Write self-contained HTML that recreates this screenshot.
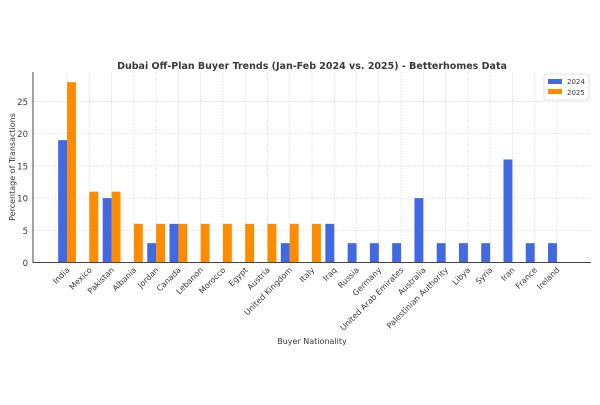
<!DOCTYPE html>
<html><head><meta charset="utf-8"><style>
body{margin:0;background:#fff;}
svg text{font-family:"DejaVu Sans","Liberation Sans",sans-serif;fill:#3a3a3a;}
</style></head><body>
<svg id="chart" width="600" height="400" xmlns="http://www.w3.org/2000/svg"></svg>
<script>
const categories=["India","Mexico","Pakistan","Albania","Jordan","Canada","Lebanon","Morocco","Egypt","Austria","United Kingdom","Italy","Iraq","Russia","Germany","United Arab Emirates","Australia","Palestinian Authority","Libya","Syria","Iran","France","Ireland"];
const values2024=[19,0,10,0,3,6,0,0,0,0,3,0,6,3,3,3,10,3,3,3,16,3,3];
const values2025=[28,11,11,6,6,6,6,6,6,6,6,6,0,0,0,0,0,0,0,0,0,0,0];
const yTicks=[0,5,10,15,20,25];
const svg=document.getElementById('chart');
const NS='http://www.w3.org/2000/svg';
const L=33,R=591,T=72,B=262.5;
const pad=1.53,n=categories.length;
const step=(R-L)/(n-1+2*pad);
const x=i=>L+(pad+i)*step;
const y=v=>B-v*6.44;
const bw=step*0.4;
function mk(t,a,txt){const e=document.createElementNS(NS,t);for(const k in a)e.setAttribute(k,a[k]);if(txt!=null)e.textContent=txt;svg.appendChild(e);return e;}
yTicks.forEach(v=>{
 const g=mk('line',{x1:L,x2:R,y1:y(v),y2:y(v),stroke:'#ddd','stroke-width':0.7,'stroke-dasharray':'2,1'});
 
 
 const t=mk('text',{x:L-5,y:y(v)+3.5,'text-anchor':'end','font-size':8.5},v);
 
 
});
categories.forEach((c,i)=>{
 const g=mk('line',{x1:x(i),x2:x(i),y1:T,y2:B,stroke:'#ddd','stroke-width':0.7,'stroke-dasharray':'2,1'});
 
 
});
categories.forEach((c,i)=>{
 if(values2024[i]>0){const r=mk('rect',{x:x(i)-bw,y:y(values2024[i]),width:bw,height:B-y(values2024[i]),fill:'#4169e1'});
 
 }
 if(values2025[i]>0){const r=mk('rect',{x:x(i),y:y(values2025[i]),width:bw,height:B-y(values2025[i]),fill:'#ff8c00'});
 
 }
 const t=mk('text',{transform:`translate(${x(i)+3},${B+8}) rotate(-45)`,'text-anchor':'end','font-size':8},c);
 
 
});
const ax=mk('path',{d:`M${L},${T} V${B} H${R}`,fill:'none',stroke:'#444','stroke-width':1});


</script>
<script>
(function(){
const svg=document.getElementById('chart');const NS='http://www.w3.org/2000/svg';
function mk(t,a,txt){const e=document.createElementNS(NS,t);for(const k in a)e.setAttribute(k,a[k]);if(txt!=null)e.textContent=txt;svg.appendChild(e);return e;}
let e=mk('text',{x:312,y:69,'text-anchor':'middle','font-size':9.5,'font-weight':'bold'},'Dubai Off-Plan Buyer Trends (Jan-Feb 2024 vs. 2025) - Betterhomes Data');


e=mk('text',{x:312,y:344,'text-anchor':'middle','font-size':8},'Buyer Nationality');


e=mk('text',{transform:'translate(15,167) rotate(-90)','text-anchor':'middle','font-size':8},'Percentage of Transactions');


e=mk('rect',{x:544,y:74,width:45,height:26,fill:'#fff',stroke:'#ddd','stroke-width':0.8,rx:2});


e=mk('rect',{x:548,y:79,width:14,height:5,fill:'#4169e1'});


e=mk('text',{x:567,y:84,'font-size':7},'2024');


e=mk('rect',{x:548,y:89,width:14,height:5,fill:'#ff8c00'});


e=mk('text',{x:567,y:95,'font-size':7},'2025');


})();
</script>
</body></html>
